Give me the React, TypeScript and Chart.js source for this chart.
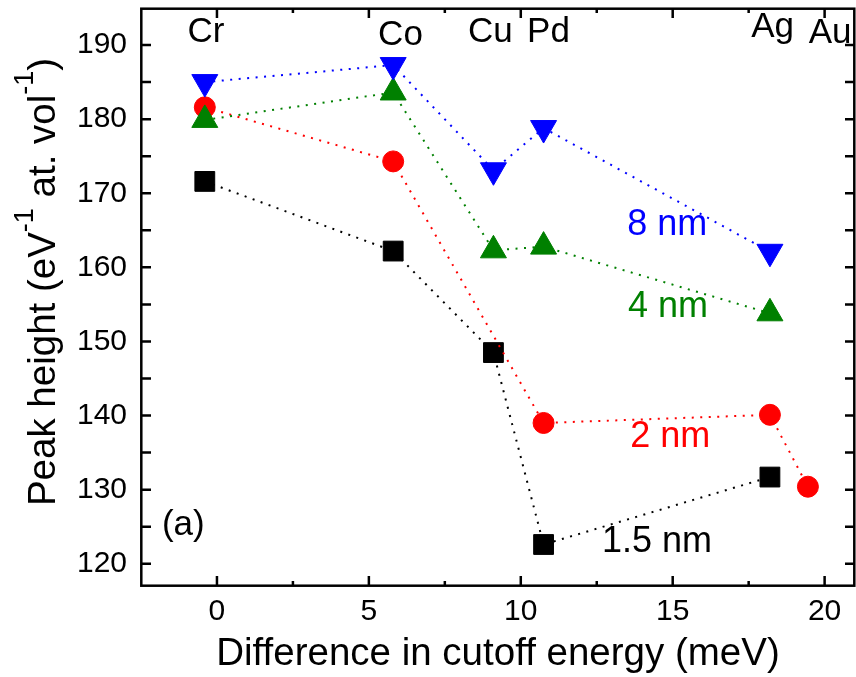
import React, { useEffect, useRef } from 'react';
import { Chart, registerables } from 'chart.js';

Chart.register(...registerables);

const FONT = '"Liberation Sans", Arial, Helvetica, sans-serif';

// Series data (x: difference in cutoff energy, meV; y: peak height)
const xBlack = [-0.4, 5.8, 9.1, 10.75, 18.2];
const yBlack = [171.6, 162.2, 148.5, 122.6, 131.7];
const xRed = [-0.4, 5.8, 10.75, 18.2, 19.45];
const yRed = [181.6, 174.3, 139.0, 140.1, 130.4];
const xGreen = [-0.4, 5.8, 9.1, 10.75, 18.2];
const yGreen = [179.9, 183.6, 162.3, 162.8, 153.8];
const xBlue = [-0.4, 5.8, 9.1, 10.75, 18.2];
const yBlue = [185.0, 187.3, 173.1, 178.8, 162.1];

// Tick labels
const xTicks = [0, 5, 10, 15, 20];
const yTicks = [120, 130, 140, 150, 160, 170, 180, 190];

// Element annotations (top)
const elementLabels = ['Cr', 'Co', 'Cu', 'Pd', 'Ag', 'Au'];
const elementX = [-0.36, 6.04, 9.0, 10.91, 18.29, 20.18];
const elementY = [190.4, 190.0, 190.4, 190.4, 191.1, 190.3];

// Thickness annotations
const seriesLabels = ['8 nm', '4 nm', '2 nm', '1.5 nm'];
const seriesLabelColors = ['#0000ff', '#008000', '#ff0000', '#000000'];
const seriesLabelX = [13.5, 13.53, 13.6, 12.67];
const seriesLabelY = [164.37, 153.3, 135.76, 121.6];

const panelLabel = '(a)';
const panelX = -1.81;
const panelY = 123.9;

const X_MIN = -2.5;
const X_MAX = 21;
const Y_MIN = 117;
const Y_MAX = 195;

const toPts = (xs: number[], ys: number[]) => xs.map((x, i) => ({ x, y: ys[i] }));

const framePlugin = {
  id: 'frameAndText',
  afterDraw(chart: any) {
    const { ctx, chartArea } = chart;
    const xs = chart.scales.x;
    const ys = chart.scales.y;
    const { left, right, top, bottom } = chartArea;
    ctx.save();
    ctx.strokeStyle = '#000';
    ctx.lineWidth = 2.5;
    ctx.strokeRect(left + 0.3, top + 0.7, right - left - 1, bottom - top - 1);
    // x ticks (inward, top and bottom)
    for (let v = -2.5; v <= X_MAX + 1e-9; v += 2.5) {
      if (v <= X_MIN + 1e-9) continue;
      const px = xs.getPixelForValue(v);
      const len = Math.abs(v % 5) < 1e-9 ? 10 : 5;
      ctx.beginPath();
      ctx.moveTo(px, bottom);
      ctx.lineTo(px, bottom - len);
      ctx.moveTo(px, top);
      ctx.lineTo(px, top + len);
      ctx.stroke();
    }
    // y ticks (inward, left and right)
    for (let v = 120; v <= Y_MAX - 1e-9; v += 5) {
      const py = ys.getPixelForValue(v);
      ctx.beginPath();
      ctx.moveTo(left, py);
      ctx.lineTo(left + 10, py);
      ctx.moveTo(right, py);
      ctx.lineTo(right - 10, py);
      ctx.stroke();
    }

    // Element labels
    ctx.fillStyle = '#000';
    ctx.font = `35px ${FONT}`;
    ctx.textAlign = 'center';
    ctx.textBaseline = 'alphabetic';
    elementLabels.forEach((t, i) => {
      ctx.fillText(t, xs.getPixelForValue(elementX[i]), ys.getPixelForValue(elementY[i]));
    });

    // Series labels
    ctx.font = `36px ${FONT}`;
    ctx.textAlign = 'left';
    seriesLabels.forEach((t, i) => {
      ctx.fillStyle = seriesLabelColors[i];
      ctx.fillText(t, xs.getPixelForValue(seriesLabelX[i]), ys.getPixelForValue(seriesLabelY[i]));
    });

    // Panel label
    ctx.fillStyle = '#000';
    ctx.font = `35px ${FONT}`;
    ctx.fillText(panelLabel, xs.getPixelForValue(panelX), ys.getPixelForValue(panelY));

    // Y-axis title with superscripts
    const cy = 282;
    ctx.translate(55, cy);
    ctx.rotate(-Math.PI / 2);
    const main = `38.5px ${FONT}`;
    const sup = `27px ${FONT}`;
    const parts: [string, boolean][] = [
      ['Peak height (eV', false],
      ['-1', true],
      [' at. vol', false],
      ['-1', true],
      [')', false],
    ];
    let total = 0;
    parts.forEach(([s, isSup]) => {
      ctx.font = isSup ? sup : main;
      total += ctx.measureText(s).width;
    });
    let pos = -total / 2;
    ctx.textAlign = 'left';
    parts.forEach(([s, isSup]) => {
      ctx.font = isSup ? sup : main;
      ctx.fillText(s, pos, isSup ? -22 : 0);
      pos += ctx.measureText(s).width;
    });
    ctx.restore();
  },
};

export default function App() {
  const ref = useRef<HTMLCanvasElement | null>(null);
  useEffect(() => {
    if (!ref.current) return;
    const common = {
      showLine: true,
      borderWidth: 2,
      borderDash: [2, 6.5],
      pointBorderWidth: 1,
      fill: false,
      tension: 0,
    };
    const chart = new Chart(ref.current, {
      type: 'scatter',
      data: {
        datasets: [
          {
            ...common,
            label: '1.5 nm',
            data: toPts(xBlack, yBlack),
            borderColor: '#000000',
            backgroundColor: '#000000',
            pointBackgroundColor: '#000000',
            pointBorderColor: '#000000',
            pointStyle: 'rect',
            pointRadius: 14,
            order: 3,
          },
          {
            ...common,
            label: '2 nm',
            data: toPts(xRed, yRed),
            borderColor: '#ff0000',
            backgroundColor: '#ff0000',
            pointBackgroundColor: '#ff0000',
            pointBorderColor: '#ff0000',
            pointStyle: 'circle',
            pointRadius: 10.5,
            order: 2,
          },
          {
            ...common,
            label: '4 nm',
            data: toPts(xGreen, yGreen),
            borderColor: '#008000',
            backgroundColor: '#008000',
            pointBackgroundColor: '#008000',
            pointBorderColor: '#008000',
            pointStyle: 'triangle',
            pointRadius: 15,
            order: 1,
          },
          {
            ...common,
            label: '8 nm',
            data: toPts(xBlue, yBlue),
            borderColor: '#0000ff',
            backgroundColor: '#0000ff',
            pointBackgroundColor: '#0000ff',
            pointBorderColor: '#0000ff',
            pointStyle: 'triangle',
            pointRotation: 180,
            pointRadius: 15,
            order: 0,
          },
        ] as any,
      },
      options: {
        animation: false,
        responsive: false,
        devicePixelRatio: 1,
        layout: { autoPadding: false, padding: { top: 8, right: 1, left: 0, bottom: 0 } },
        plugins: {
          legend: { display: false },
          tooltip: { enabled: false },
          title: { display: false },
        },
        scales: {
          x: {
            type: 'linear',
            min: X_MIN,
            max: X_MAX,
            grid: { display: false, drawTicks: false },
            border: { display: false },
            afterBuildTicks: (s: any) => {
              s.ticks = xTicks.map((v) => ({ value: v }));
            },
            afterFit: (s: any) => {
              s.height = 91;
              s.paddingLeft = 0;
              s.paddingRight = 0;
              s.paddingTop = 0;
              s.paddingBottom = 0;
            },
            ticks: {
              color: '#000',
              padding: 8,
              maxRotation: 0,
              font: { family: FONT, size: 30 },
            },
            title: {
              display: true,
              text: 'Difference in cutoff energy (meV)',
              color: '#000',
              font: { family: FONT, size: 38.5 },
              padding: 0,
            },
          },
          y: {
            type: 'linear',
            min: Y_MIN,
            max: Y_MAX,
            grid: { display: false, drawTicks: false },
            border: { display: false },
            afterBuildTicks: (s: any) => {
              s.ticks = yTicks.map((v) => ({ value: v }));
            },
            afterFit: (s: any) => {
              s.width = 141;
              s.paddingLeft = 0;
              s.paddingRight = 0;
              s.paddingTop = 0;
              s.paddingBottom = 0;
            },
            ticks: {
              color: '#000',
              padding: 14,
              font: { family: FONT, size: 30 },
            },
          },
        },
      } as any,
      plugins: [framePlugin],
    });
    return () => chart.destroy();
  }, []);
  return (
    <canvas
      ref={ref}
      width={856}
      height={677}
      style={{ position: 'absolute', left: 0, top: 0, width: 856, height: 677, display: 'block' }}
    />
  );
}
